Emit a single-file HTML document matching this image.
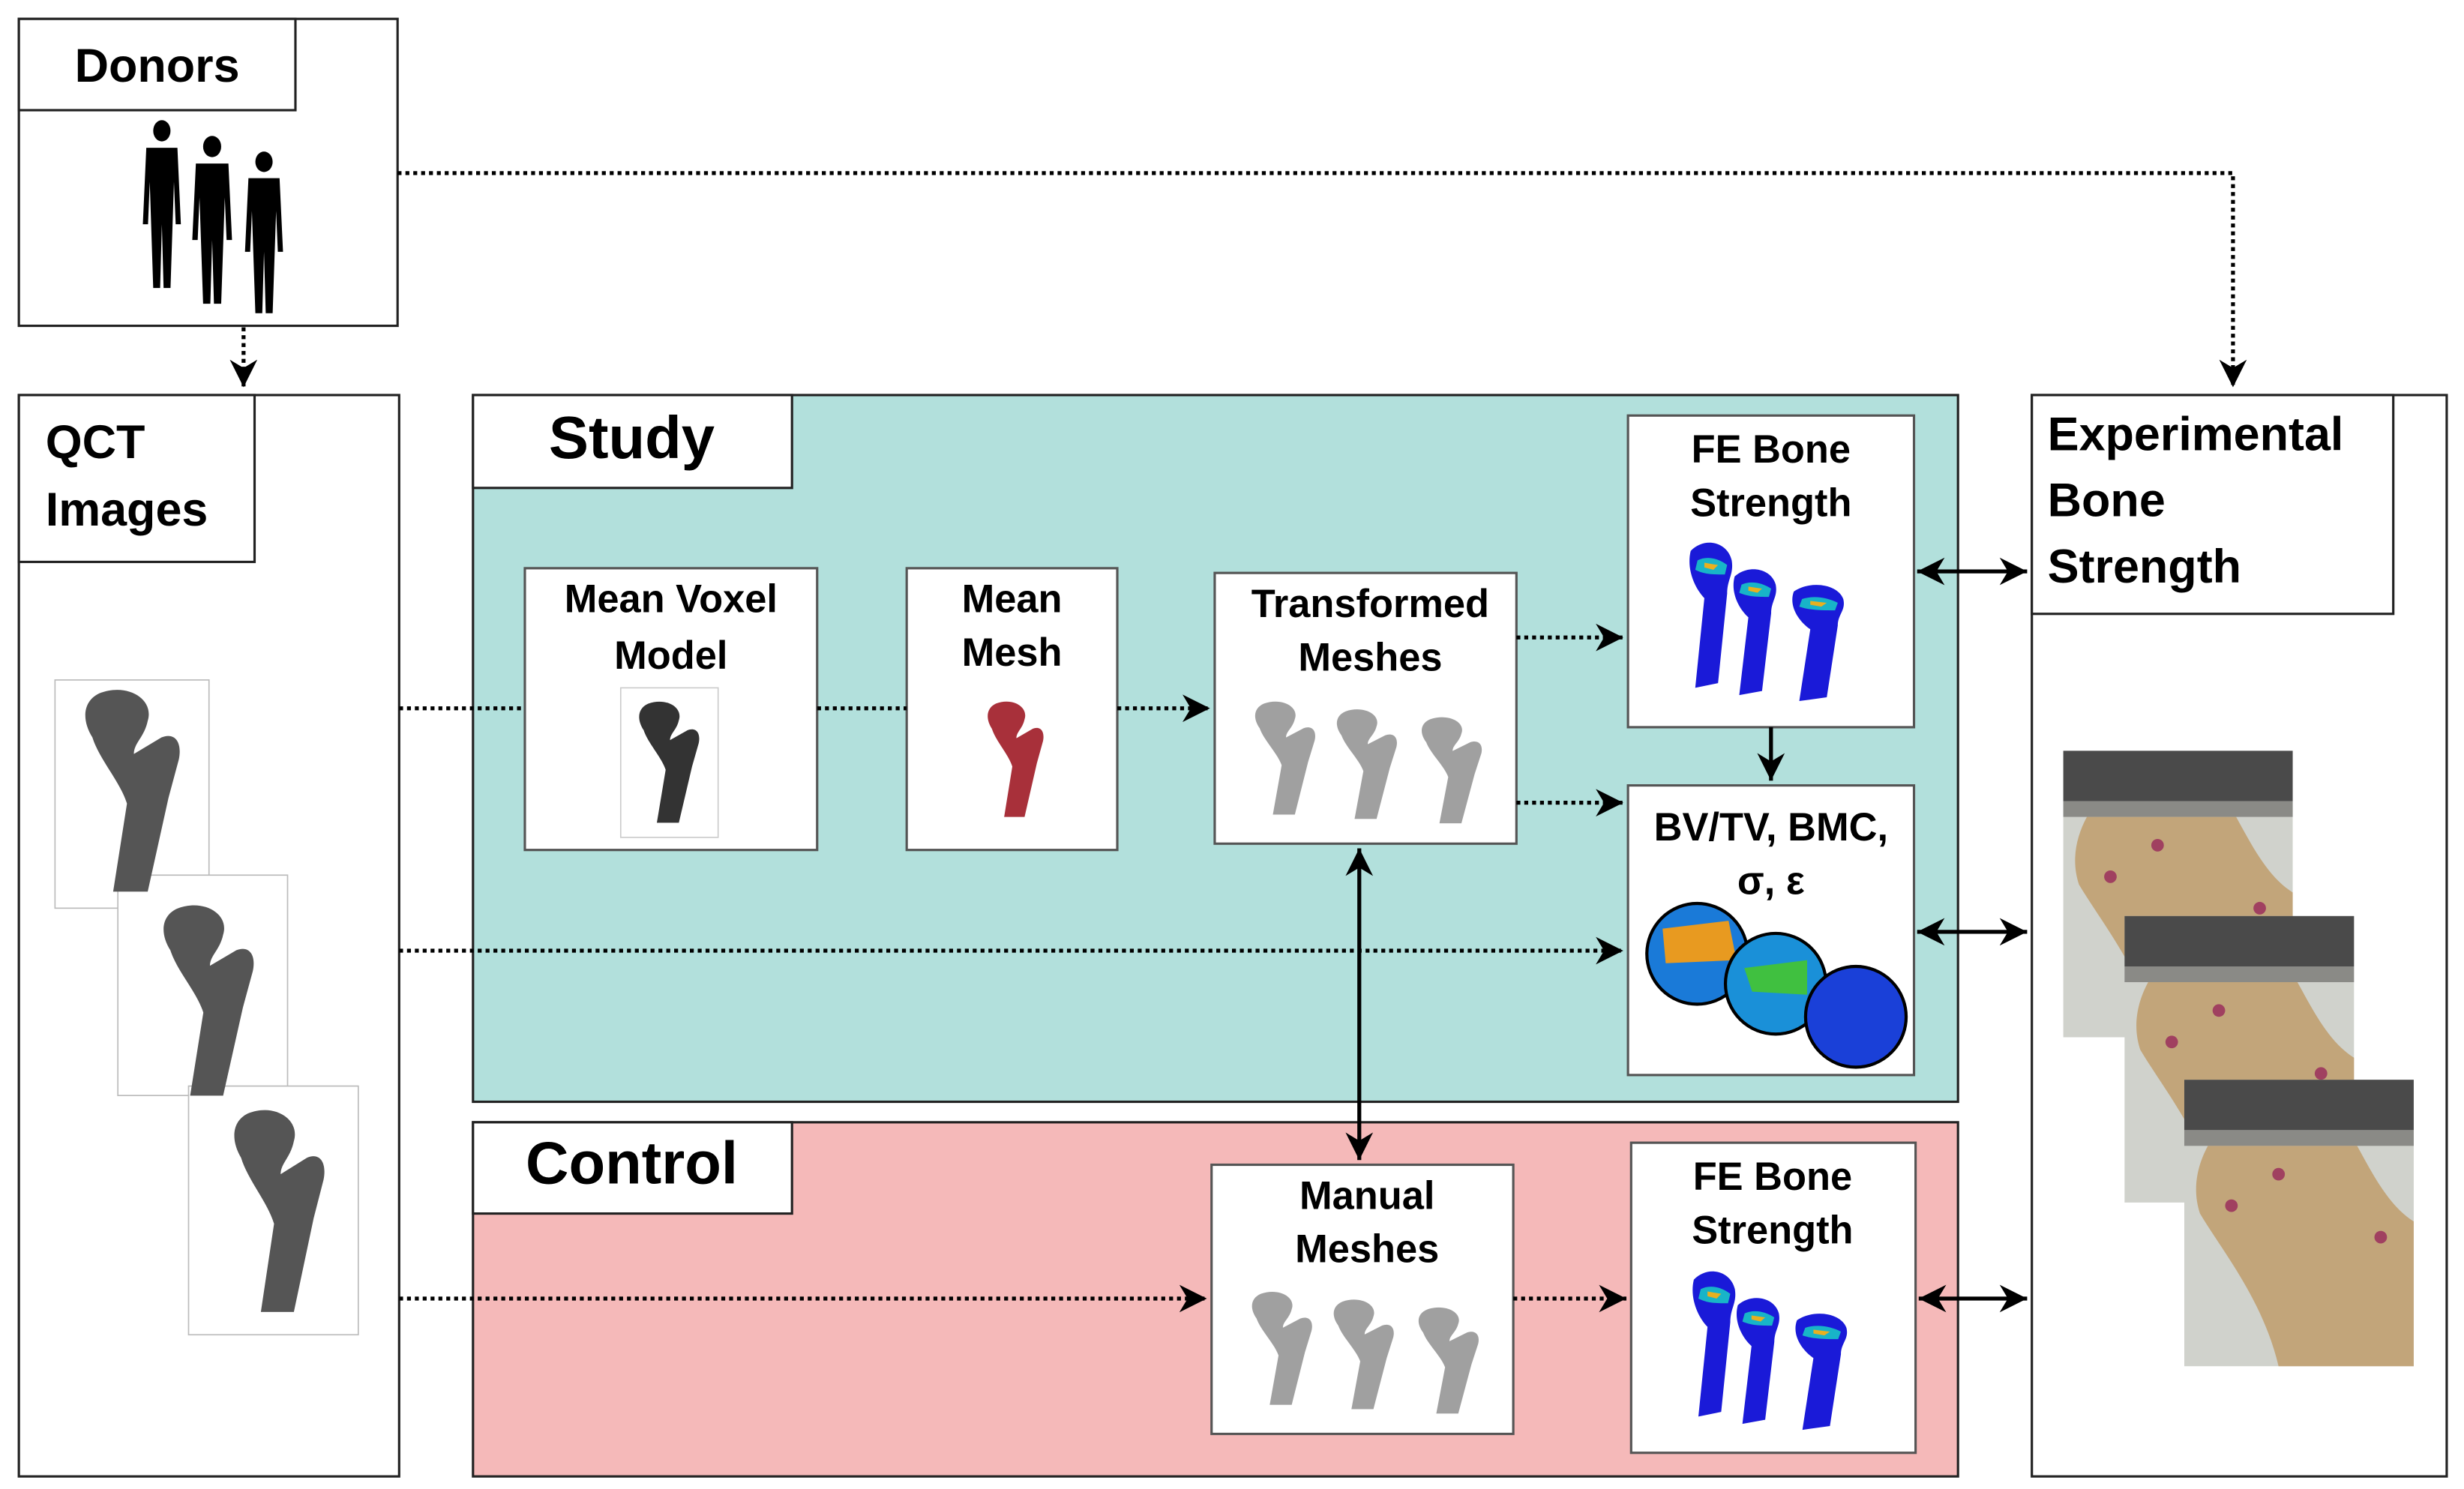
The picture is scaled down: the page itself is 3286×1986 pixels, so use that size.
<!DOCTYPE html>
<html><head><meta charset="utf-8"><style>
html,body{margin:0;padding:0;background:#fff;}
svg{display:block;}
text{font-family:"Liberation Sans",sans-serif;font-weight:bold;fill:#000;}
</style></head><body>
<svg width="3286" height="1986" viewBox="0 0 1568 946" preserveAspectRatio="none" xmlns="http://www.w3.org/2000/svg">
<defs>
<marker id="ah" viewBox="0 0 10 10" refX="10" refY="5" markerWidth="7" markerHeight="7" orient="auto-start-reverse"><path d="M0,0 L10,5 L0,10 L3,5 Z" fill="#000"/></marker>
<g id="femur"><path d="M6,2 C14,-2 22,4 20,12 C19,18 16,20 16,24 L24,18 C28,16 30,20 29,26 L26,40 L20,74 L10,74 L14,42 C12,34 6,26 4,18 C1,12 1,5 6,2 Z"/></g>
<g id="person"><circle cx="0" cy="6" r="5"/><path d="M-9,14 L9,14 L11,50 L8,50 L7,30 L5,80 L1,80 L0,50 L-1,80 L-5,80 L-7,30 L-8,50 L-11,50 Z"/></g>
<g id="ffe"><path d="M2,4 C8,-2 18,0 20,8 C21,14 18,16 18,22 L14,60 L4,62 L8,24 C4,20 0,12 2,4 Z" fill="#1a1ad8"/><path d="M5,8 C9,6 14,7 18,10 L17,14 C12,14 8,14 4,12 Z" fill="#18b4c8"/><path d="M8,9 L14,10 L12,12 L8,11 Z" fill="#e8b020"/></g>
<g id="photo"><rect width="146" height="182" fill="#d0d2cc"/><rect y="0" width="146" height="32" fill="#4a4a4a"/><rect y="32" width="146" height="10" fill="#8a8a86"/><path d="M15,42 L110,42 C120,60 130,80 146,90 L146,182 L60,182 C50,140 25,110 10,85 C5,70 8,55 15,42 Z" fill="#c2a57a"/><circle cx="30" cy="80" r="4" fill="#a04060"/><circle cx="60" cy="60" r="4" fill="#a04060"/><circle cx="125" cy="100" r="4" fill="#a04060"/></g>
</defs>
<rect width="1568" height="946" fill="#fff"/>

<rect x="301" y="251" width="945" height="449" fill="#b2e0dc" stroke="#222" stroke-width="1.5"/>
<rect x="301" y="251" width="203" height="59" fill="#fff" stroke="#222" stroke-width="1.5"/>
<text x="402" y="291" font-size="38" text-anchor="middle">Study</text>
<rect x="301" y="713" width="945" height="225" fill="#f5b9b9" stroke="#222" stroke-width="1.5"/>
<rect x="301" y="713" width="203" height="58" fill="#fff" stroke="#222" stroke-width="1.5"/>
<text x="402" y="752" font-size="38" text-anchor="middle">Control</text>

<rect x="12" y="12" width="241" height="195" fill="#fff" stroke="#222" stroke-width="1.5"/>
<rect x="12" y="12" width="176" height="58" fill="#fff" stroke="#222" stroke-width="1.5"/>
<text x="100" y="52" font-size="30" text-anchor="middle">Donors</text>
<g fill="#000">
<use href="#person" transform="translate(103,75) scale(1.1,1.35)"/>
<use href="#person" transform="translate(135,85) scale(1.15,1.35)"/>
<use href="#person" transform="translate(168,95) scale(1.1,1.3)"/>
</g>

<rect x="12" y="251" width="242" height="687" fill="#fff" stroke="#222" stroke-width="1.5"/>
<rect x="12" y="251" width="150" height="106" fill="#fff" stroke="#222" stroke-width="1.5"/>
<text x="29" y="291" font-size="30">QCT</text>
<text x="29" y="334" font-size="30">Images</text>
<g stroke="#bbb" stroke-width="0.8" fill="#fff">
<rect x="35" y="432" width="98" height="145"/><rect x="75" y="556" width="108" height="140"/><rect x="120" y="690" width="108" height="158"/>
</g>
<g fill="#555">
<use href="#femur" transform="translate(50,437) scale(2.2,1.75)"/>
<use href="#femur" transform="translate(100,574) scale(2.1,1.65)"/>
<use href="#femur" transform="translate(145,704) scale(2.1,1.75)"/>
</g>

<rect x="1293" y="251" width="264" height="687" fill="#fff" stroke="#222" stroke-width="1.5"/>
<rect x="1293" y="251" width="230" height="139" fill="#fff" stroke="#222" stroke-width="1.5"/>
<text x="1303" y="286" font-size="30">Experimental</text>
<text x="1303" y="328" font-size="30">Bone</text>
<text x="1303" y="370" font-size="30">Strength</text>
<use href="#photo" transform="translate(1313,477)"/>
<use href="#photo" transform="translate(1352,582)"/>
<use href="#photo" transform="translate(1390,686)"/>

<g fill="#fff" stroke="#555" stroke-width="1.5">
<rect x="334" y="361" width="186" height="179"/>
<rect x="577" y="361" width="134" height="179"/>
<rect x="773" y="364" width="192" height="172"/>
<rect x="1036" y="264" width="182" height="198"/>
<rect x="1036" y="499" width="182" height="184"/>
<rect x="771" y="740" width="192" height="171"/>
<rect x="1038" y="726" width="181" height="197"/>
</g>
<g font-size="25" text-anchor="middle">
<text x="427" y="389">Mean Voxel</text><text x="427" y="425">Model</text>
<text x="644" y="389">Mean</text><text x="644" y="423">Mesh</text>
<text x="872" y="392">Transformed</text><text x="872" y="426">Meshes</text>
<text x="1127" y="294">FE Bone</text><text x="1127" y="328">Strength</text>
<text x="1127" y="534">BV/TV, BMC,</text><text x="1127" y="568">σ, ε</text>
<text x="870" y="768">Manual</text><text x="870" y="802">Meshes</text>
<text x="1128" y="756">FE Bone</text><text x="1128" y="790">Strength</text>
</g>
<rect x="395" y="437" width="62" height="95" fill="none" stroke="#ccc" stroke-width="0.8"/>
<use href="#femur" transform="translate(404,445) scale(1.4,1.05)" fill="#333"/>
<use href="#femur" transform="translate(626,445) scale(1.3,1.0)" fill="#a8303a"/>
<g fill="#a0a0a0">
<use href="#femur" transform="translate(796,445) scale(1.4,0.98)"/>
<use href="#femur" transform="translate(848,450) scale(1.4,0.95)"/>
<use href="#femur" transform="translate(902,455) scale(1.4,0.92)"/>
<use href="#femur" transform="translate(794,820) scale(1.4,0.98)"/>
<use href="#femur" transform="translate(846,825) scale(1.4,0.95)"/>
<use href="#femur" transform="translate(900,830) scale(1.4,0.92)"/>
</g>
<use href="#ffe" transform="translate(1073,344) scale(1.45,1.5)"/>
<use href="#ffe" transform="translate(1101,361) scale(1.45,1.3)"/>
<use href="#ffe" transform="translate(1138,371) scale(1.75,1.2)"/>
<use href="#ffe" transform="translate(1075,807) scale(1.45,1.5)"/>
<use href="#ffe" transform="translate(1103,824) scale(1.45,1.3)"/>
<use href="#ffe" transform="translate(1140,834) scale(1.75,1.2)"/>
<g stroke="#000" stroke-width="2">
<circle cx="1080" cy="606" r="32" fill="#1a7ad8"/><path d="M1058,590 L1100,585 L1105,610 L1060,612 Z" fill="#e89a20" stroke="none"/>
<circle cx="1130" cy="625" r="32" fill="#1a90d8"/><path d="M1110,615 L1150,610 L1150,632 L1115,630 Z" fill="#40c040" stroke="none"/>
<circle cx="1181" cy="646" r="32" fill="#1a40d8"/>
</g>

<g stroke="#000" stroke-width="2.5" stroke-dasharray="2.5,2.5" fill="none">
<path d="M253,110 H1421 V246" marker-end="url(#ah)"/>
<path d="M155,208 V246" marker-end="url(#ah)"/>
<path d="M254,450 H334"/>
<path d="M520,450 H577"/>
<path d="M711,450 H770" marker-end="url(#ah)"/>
<path d="M965,405 H1033" marker-end="url(#ah)"/>
<path d="M965,510 H1033" marker-end="url(#ah)"/>
<path d="M254,604 H1033" marker-end="url(#ah)"/>
<path d="M254,825 H768" marker-end="url(#ah)"/>
<path d="M963,825 H1035" marker-end="url(#ah)"/>
</g>
<g stroke="#000" stroke-width="2.5" fill="none">
<path d="M1127,462 V496" marker-end="url(#ah)"/>
<path d="M865,539 V737" marker-start="url(#ah)" marker-end="url(#ah)"/>
<path d="M1220,363 H1290" marker-start="url(#ah)" marker-end="url(#ah)"/>
<path d="M1220,592 H1290" marker-start="url(#ah)" marker-end="url(#ah)"/>
<path d="M1221,825 H1290" marker-start="url(#ah)" marker-end="url(#ah)"/>
</g>
</svg>
</body></html>
